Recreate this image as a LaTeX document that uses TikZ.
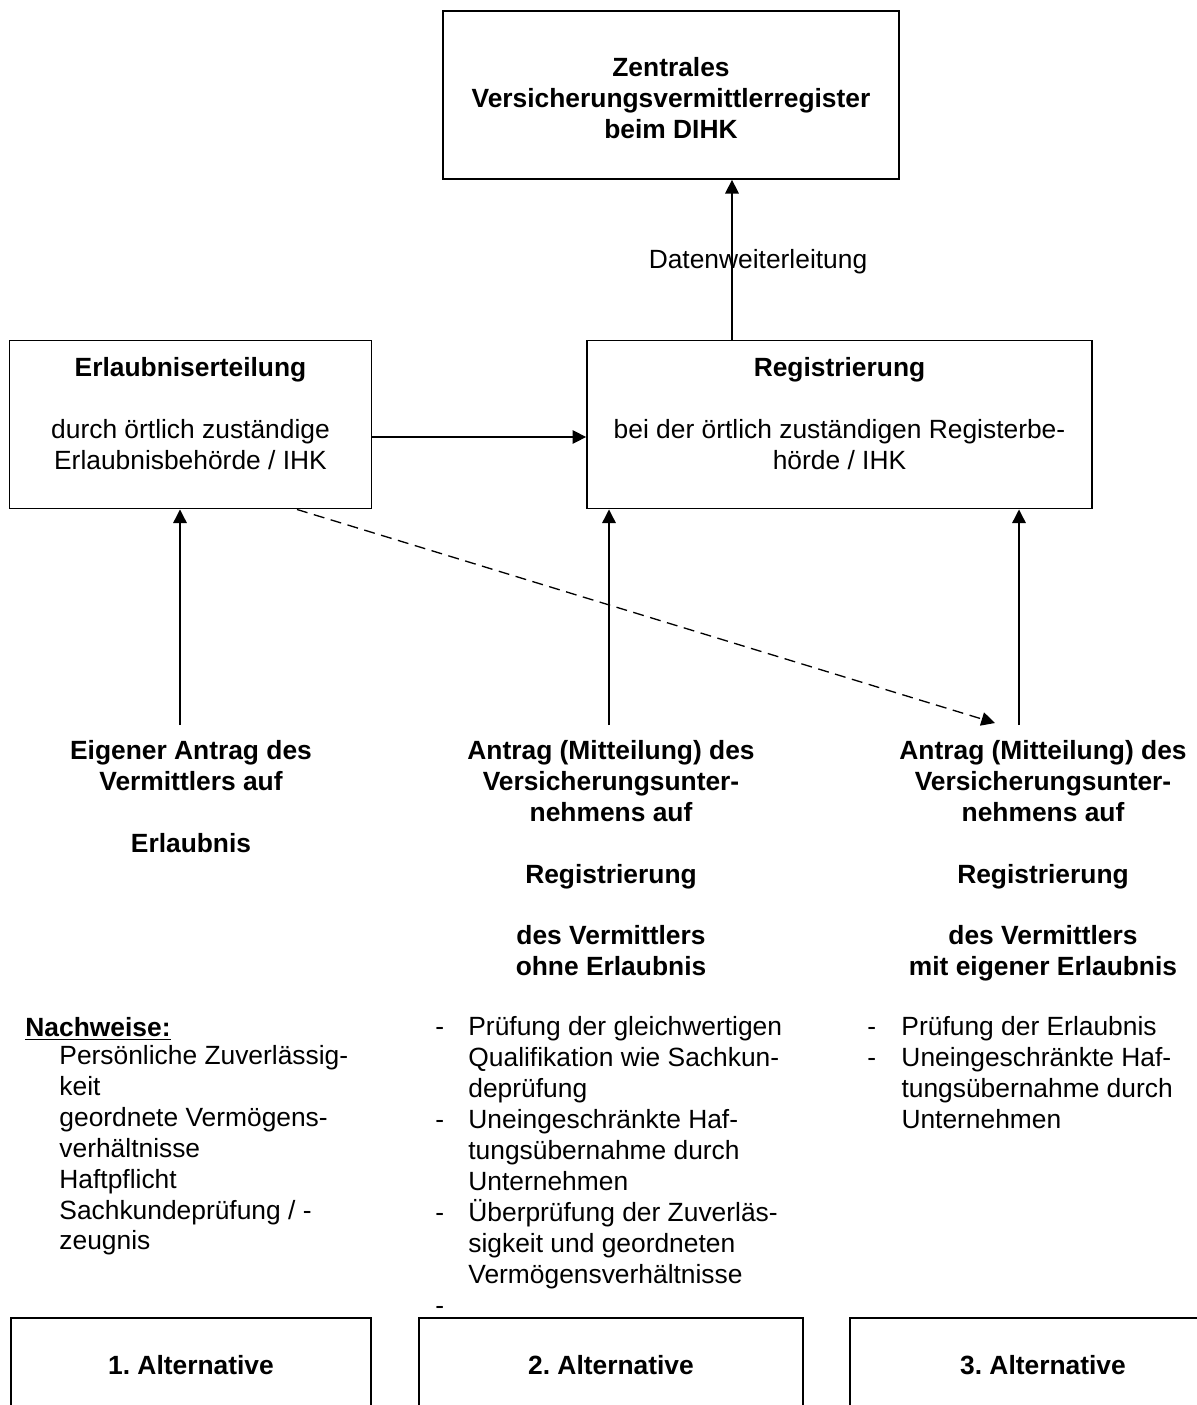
\documentclass[tikz,border=0pt]{standalone}
\usepackage{fontspec}
\setmainfont{Liberation Sans}
\usetikzlibrary{arrows.meta,calc}
\frenchspacing
\newcommand\strich[1][15pt]{\makebox[#1][l]{-}}
\newcommand\einzug[1][15pt]{\hspace*{#1}}

\begin{document}
\begin{tikzpicture}
[x=0.455pt,y=-0.455pt,
schrift/.style={font=\fontsize{12pt}{14.1pt}\selectfont},
fett/.style={font=\fontsize{12pt}{14.1pt}\selectfont\bfseries},
kasten/.style={draw=black,line width=0.8pt,inner sep=0pt},
block/.style={align=center,inner sep=0pt,anchor=north,execute at begin node=\strut},
liste/.style={align=left,inner sep=0pt,anchor=north west,execute at begin node=\strut},
pfeil/.style={line width=0.6pt,-{Triangle[length=6.2pt,width=6.2pt]}}]
\useasboundingbox (0,0) rectangle (1197,1405);
%%
\node (dihk) [kasten,minimum width=456*0.455pt,minimum height=168*0.455pt] at (671,95) {};
\node (dihktxt) [block,fett] at (671,57) {Zentrales\\Versicherungsvermittlerregister\\beim DIHK};
\node (erl) [kasten,minimum width=362*0.455pt,minimum height=168*0.455pt] at (190.5,424.6) {};
\node (erltxt) [block,schrift] at (190.5,357) {\textbf{Erlaubniserteilung}\\[14.1pt]durch örtlich zuständige\\Erlaubnisbehörde / IHK};
\node (reg) [kasten,minimum width=505*0.455pt,minimum height=168*0.455pt] at (839.5,424.6) {};
\node (regtxt) [block,schrift] at (839.5,357) {\textbf{Registrierung}\\[14.1pt]bei der örtlich zuständigen Registerbe-\\hörde / IHK};
%%
\coordinate (dw) at (732,262);
\draw[pfeil] (reg.north -| dw) -- (dihk.south -| dw);
\node (daten) [schrift,anchor=base,inner sep=0pt] at (758,268) {Datenweiterleitung};
\draw[pfeil] ($(erl.east)+(0,12.4)$) -- ($(reg.west)+(0,12.4)$);
%%
\coordinate (f1) at (180,725);
\coordinate (f2) at (609,725);
\coordinate (f3) at (1019,725);
\coordinate (g) at (995,723);
\draw[pfeil] (f1) -- (f1 |- erl.south);
\draw[pfeil] (f2) -- (f2 |- reg.south);
\draw[pfeil] (f3) -- (f3 |- reg.south);
\draw[pfeil,dash pattern=on 5pt off 3pt] ($(erl.south)+(106.5,0)$) -- (g);
%%
\node (kopf1) [block,fett] at (191,739.5) {Eigener Antrag des\\Vermittlers auf\\[14.1pt]Erlaubnis};
\node (kopf2) [block,fett] at (611,739.5) {Antrag (Mitteilung) des\\Versicherungsunter-\\nehmens auf\\[14.1pt]Registrierung\\[14.1pt]des Vermittlers\\ohne Erlaubnis};
\node (kopf3) [block,fett] at (1043,739.5) {Antrag (Mitteilung) des\\Versicherungsunter-\\nehmens auf\\[14.1pt]Registrierung\\[14.1pt]des Vermittlers\\mit eigener Erlaubnis};
%%
\node (nachweise) [fett,anchor=base west,inner sep=0pt] at (25,1036) {\underline{Nachweise:}};
\node (liste1) [liste,schrift] at (59,1044.5) {Persönliche Zuverlässig-\\keit\\geordnete Vermögens-\\verhältnisse\\Haftpflicht\\Sachkundeprüfung / -\\zeugnis};
\node (liste2) [liste,schrift] at (435,1016) {\strich Prüfung der gleichwertigen\\\einzug Qualifikation wie Sachkun-\\\einzug deprüfung\\\strich Uneingeschränkte Haf-\\\einzug tungsübernahme durch\\\einzug Unternehmen\\\strich Überprüfung der Zuverläs-\\\einzug sigkeit und geordneten\\\einzug Vermögensverhältnisse\\-};
\node (liste3) [liste,schrift] at (867,1016) {\strich[15.5pt]Prüfung der Erlaubnis\\\strich[15.5pt]Uneingeschränkte Haf-\\\einzug[15.5pt]tungsübernahme durch\\\einzug[15.5pt]Unternehmen};
%%
\node (alt1) [kasten,fett,minimum width=359.5*0.455pt,minimum height=94*0.455pt] at (191,1365) {1. Alternative};
\node (alt2) [kasten,fett,minimum width=384*0.455pt,minimum height=94*0.455pt] at (611,1365) {2. Alternative};
\node (alt3) [kasten,fett,minimum width=386*0.455pt,minimum height=94*0.455pt] at (1043,1365) {3. Alternative};
\end{tikzpicture}
\end{document}
